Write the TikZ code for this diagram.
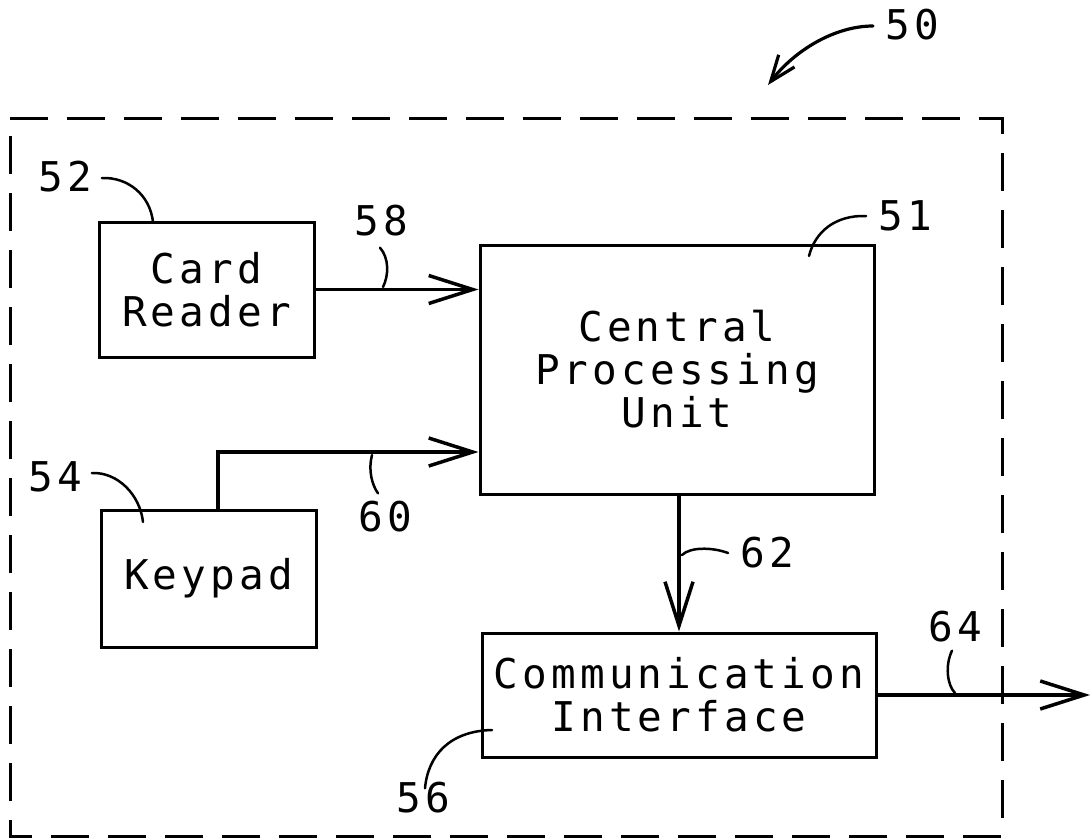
\documentclass[tikz,border=0pt]{standalone}
\usepackage{fontspec}
\usetikzlibrary{arrows.meta,calc}
\newfontfamily\drawfont[LetterSpace=10]{DejaVu Sans Mono}
\begin{document}
\begin{tikzpicture}[x=1pt,y=-1pt,
  txt/.style={font=\drawfont\fontsize{41pt}{43pt}\selectfont},
  box/.style={draw, line width=3pt, align=center, inner sep=0pt, txt},
  lbl/.style={inner sep=0pt, txt},
  arr/.style={line width=3.5pt, -{Straight Barb[length=44pt,width=28pt]}},
  lead/.style={line width=2.5pt, line cap=round},
  frame/.style={line width=3pt, dash pattern=on 38pt off 19pt}]
\useasboundingbox (0,0) rectangle (1092,840);
% dashed enclosure
\draw[frame] (10,119) -- (1002,119) -- (1002,836) -- (10,836) -- cycle;
% blocks
\node[box, minimum width=215pt, minimum height=135pt] (cr) at (206.5,289.5) {Card\\Reader};
\node[box, minimum width=215pt, minimum height=137pt] (kp) at (208.5,578.5) {Keypad};
\node[box, minimum width=394pt, minimum height=249pt] (cpu) at (677,369.5) {Central\\Processing\\Unit};
\node[box, minimum width=394pt, minimum height=124pt] (ci) at (679,695) {Communication\\Interface};
% reference numerals
\node[lbl] (l50) at (912,25) {50};
\node[lbl] (l52) at (65,177) {52};
\node[lbl] (l58) at (381,221) {58};
\node[lbl] (l51) at (905,216) {51};
\node[lbl] (l54) at (55,477) {54};
\node[lbl] (l60) at (385,517) {60};
\node[lbl] (l62) at (767,553) {62};
\node[lbl] (l64) at (955,627) {64};
\node[lbl] (l56) at (423,798) {56};
% helper coordinates
\coordinate (j60) at (218,452);
\coordinate (out64) at (1090,695);
\coordinate (t50) at (768,85);
% connectors
\draw[arr] (cr.east) -- (cr.east -| cpu.west);
\draw[arr] (kp.north -| j60) -- (j60) -- (j60 -| cpu.west);
\draw[line width=4.5pt] (kp.north -| j60) -- (j60);
\draw[arr] (ci.north |- cpu.south) -- (ci.north);
\draw[arr] (ci.east) -- (out64);
\draw[line width=3.2pt, line cap=round, -{Straight Barb[length=26pt,width=20pt]}]
  ([xshift=-12pt,yshift=-1pt]l50.west) .. controls (835,26) and (795,50) .. (t50);
% leader lines
\draw[lead] ([xshift=10pt,yshift=-1pt]l52.east) .. controls (128,177) and (150,195) .. (153,222);
\draw[lead] ([xshift=-1pt,yshift=-11pt]l58.south) .. controls (389,258) and (389,275) .. (383,287);
\draw[lead] ([xshift=-12pt,yshift=0pt]l51.west) .. controls (835,215) and (815,232) .. (809,256);
\draw[lead] ([xshift=10pt,yshift=4pt]l54.east) .. controls (118,472) and (140,495) .. (143,522);
\draw[lead] (372,455) .. controls (368,470) and (372,485) .. ([xshift=-7pt,yshift=8pt]l60.north);
\draw[lead] ([xshift=-12pt]l62.west) .. controls (712,547) and (690,547) .. (682,555);
\draw[lead] ([xshift=-3pt,yshift=-8pt]l64.south) .. controls (945,665) and (947,685) .. (955,693);
\draw[lead] ([xshift=2pt,yshift=-6pt]l56.north) .. controls (428,755) and (450,731) .. (492,730);
\end{tikzpicture}
\end{document}
